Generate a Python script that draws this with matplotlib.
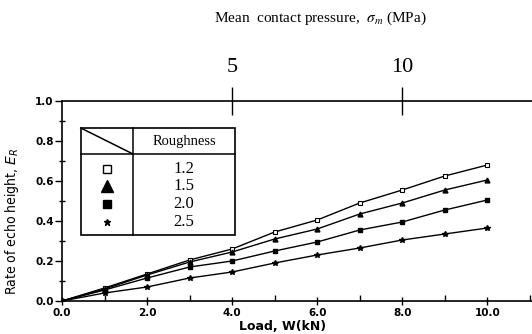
import matplotlib.pyplot as plt
from matplotlib.lines import Line2D
from matplotlib.ticker import MultipleLocator

# load in kN and rate of echo height per roughness
load = [0, 1, 2, 3, 4, 5, 6, 7, 8, 9, 10]
rate_12 = [0, 0.065, 0.135, 0.205, 0.26, 0.345, 0.405, 0.49, 0.555, 0.625, 0.68]
rate_15 = [0, 0.06, 0.13, 0.195, 0.245, 0.31, 0.36, 0.435, 0.49, 0.555, 0.605]
rate_20 = [0, 0.055, 0.115, 0.17, 0.20, 0.25, 0.295, 0.355, 0.395, 0.455, 0.505]
rate_25 = [0, 0.04, 0.07, 0.115, 0.145, 0.19, 0.23, 0.265, 0.305, 0.335, 0.365]

roughness_labels = ["1.2", "1.5", "2.0", "2.5"]
pressure_ticks = [5, 10]

# 5 MPa sits at 4 kN on the bottom scale
def load_to_pressure(w):
    return w * 1.25


def pressure_to_load(p):
    return p / 1.25


figure = plt.figure(figsize=(5.32, 3.34), dpi=100)
axis = figure.add_axes([62 / 532, 1 - 301 / 334, 1 - 62 / 532, 200 / 334])

series = [
    (rate_12, dict(marker="s", ms=3.5, mfc="white", mec="black", mew=0.8)),
    (rate_15, dict(marker="^", ms=3.5, mfc="black", mec="black")),
    (rate_20, dict(marker="s", ms=3.5, mfc="black", mec="black")),
    (rate_25, dict(marker="*", ms=4, mfc="black", mec="black")),
]
for values, style in series:
    axis.plot(load, values, color="black", lw=1.0, **style)

axis.set_xlim(0, 11.05)
axis.set_ylim(0, 1.0)
axis.xaxis.set_major_locator(MultipleLocator(2))
axis.xaxis.set_minor_locator(MultipleLocator(1))
axis.yaxis.set_major_locator(MultipleLocator(0.2))
axis.yaxis.set_minor_locator(MultipleLocator(0.1))
axis.xaxis.set_major_formatter(lambda v, pos: f"{v:.1f}")
axis.yaxis.set_major_formatter(lambda v, pos: f"{v:.1f}")

axis.spines["right"].set_visible(False)
for side in ["left", "bottom", "top"]:
    axis.spines[side].set_linewidth(1.2)
axis.tick_params(axis="both", which="both", top=False, right=False, width=1.0)
axis.tick_params(axis="y", which="major", direction="out", length=5, pad=1)
axis.tick_params(axis="y", which="minor", direction="inout", length=5)
axis.tick_params(axis="x", which="major", direction="inout", length=6, pad=2)
axis.tick_params(axis="x", which="minor", direction="in", length=4)
for label in axis.get_xticklabels() + axis.get_yticklabels():
    label.set_fontweight("bold")
    label.set_fontsize(7.5)

axis.set_xlabel("Load, W(kN)", fontsize=9, fontweight="bold")
axis.xaxis.set_label_coords((283 - 62) / 470, -0.125)
axis.xaxis.label.set_va("center")
axis.set_ylabel(r"Rate of echo height, $E_R$",
                family="DejaVu Sans", fontstretch="condensed", fontsize=10)
axis.yaxis.set_label_coords(-0.088, 0.40)

# top scale in contact pressure
top = axis.secondary_xaxis("top", functions=(load_to_pressure, pressure_to_load))
top.set_xticks(pressure_ticks)
top.set_xticklabels([str(p) for p in pressure_ticks], family="Liberation Serif", fontsize=16)
top.tick_params(direction="inout", length=20, width=1.0, pad=7)
top.tick_params(which="minor", length=0)
top.spines["top"].set_visible(False)
figure.text(320 / 532, 1 - 18 / 334, r"Mean  contact pressure,  $\sigma_m$ (MPa)",
            family="Liberation Serif", fontsize=11, ha="center", va="center",
            math_fontfamily="stix")

# legend drawn as a small table
tr = axis.transAxes
left, mid, right = 0.040, 0.151, 0.368
top_y, head_y, bottom_y = 0.865, 0.735, 0.33
box = plt.Rectangle((left, bottom_y), right - left, top_y - bottom_y,
                    transform=tr, fill=True, fc="white", ec="black", lw=1.2, zorder=5)
axis.add_patch(box)
for xs, ys in [((left, right), (head_y, head_y)),
               ((mid, mid), (bottom_y, top_y)),
               ((left, mid), (top_y, head_y))]:
    axis.add_line(Line2D(xs, ys, transform=tr, color="black", lw=1.1, zorder=6))
axis.text((mid + right) / 2, (top_y + head_y) / 2, "Roughness", transform=tr,
          family="Liberation Serif", fontsize=10.5, ha="center", va="center", zorder=7)

legend_styles = [
    dict(marker="s", ms=5.5, mfc="white", mec="black", mew=1.0),
    dict(marker="^", ms=9, mfc="black", mec="black"),
    dict(marker="s", ms=5.5, mfc="black", mec="black"),
    dict(marker="*", ms=5, mfc="black", mec="black"),
]
row_y = [0.66, 0.575, 0.485, 0.395]
for label, style, y in zip(roughness_labels, legend_styles, row_y):
    axis.plot([(left + mid) / 2], [y], transform=tr, ls="none", zorder=7,
              clip_on=False, **style)
    axis.text((mid + right) / 2, y, label, transform=tr, family="Liberation Serif",
              fontsize=12, ha="center", va="center", zorder=7)

figure.savefig("out.png", dpi=100)
